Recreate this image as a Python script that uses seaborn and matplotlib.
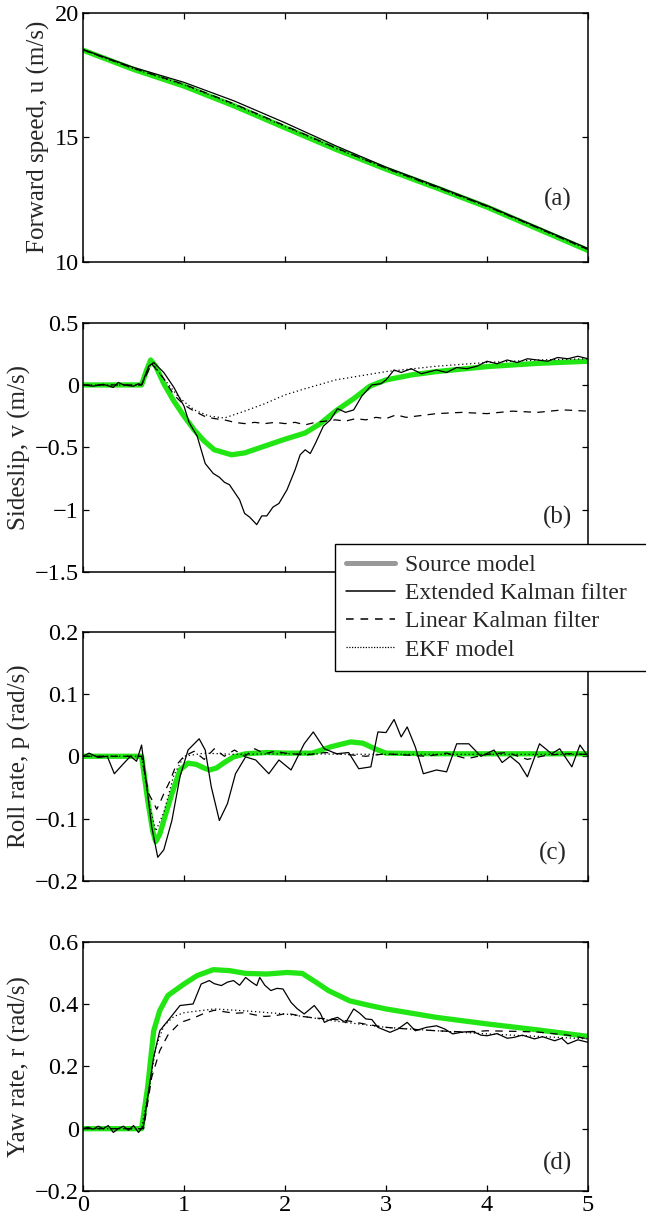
import matplotlib
matplotlib.use("Agg")
import matplotlib.pyplot as plt
import matplotlib.ticker as mticker
from matplotlib.lines import Line2D
import seaborn as sns

sns.set_style("ticks")
plt.rcParams['font.family'] = ['Liberation Serif', 'DejaVu Serif']

# ---- (a) forward speed ----
t_a = [0, 0.5, 1, 1.5, 2, 2.5, 3, 3.5, 4, 4.5, 5]
u_src = [18.49, 17.72, 17.05, 16.25, 15.38, 14.52, 13.72, 12.97, 12.20, 11.33, 10.46]
u_ekf = [18.52, 17.80, 17.20, 16.45, 15.58, 14.66, 13.80, 13.04, 12.26, 11.40, 10.54]
u_lkf = [18.50, 17.76, 17.12, 16.33, 15.46, 14.58, 13.76, 13.00, 12.23, 11.37, 10.50]
u_mod = [18.50, 17.75, 17.10, 16.30, 15.43, 14.56, 13.75, 12.99, 12.22, 11.36, 10.49]

# ---- (b) sideslip ----
t_b_src = [0, 0.58, 0.63, 0.67, 0.72, 0.8, 0.9, 1.0, 1.1, 1.2, 1.3, 1.47, 1.6, 1.8, 2.0,
           2.2, 2.35, 2.5, 2.68, 2.84, 3.0, 3.25, 3.5, 4.0, 4.5, 5.0]
v_src = [0, 0, 0.12, 0.2, 0.15, 0.01, -0.13, -0.25, -0.36, -0.45, -0.52, -0.56, -0.545, -0.49,
         -0.435, -0.385, -0.31, -0.21, -0.11, -0.01, 0.04, 0.08, 0.107, 0.147, 0.173, 0.19]
t_b_mod = [0, 0.58, 0.68, 0.8, 0.95, 1.1, 1.25, 1.4, 1.6, 1.8, 2.0, 2.2, 2.5, 3.0, 3.5, 4.0, 4.5, 5.0]
v_mod = [0, 0, 0.18, 0.05, -0.1, -0.2, -0.25, -0.265, -0.21, -0.15, -0.08, -0.03, 0.04, 0.107,
         0.15, 0.18, 0.2, 0.21]
t_b_lkf = [0, 0.58, 0.68, 0.8, 0.9, 1.0, 1.1, 1.2, 1.3, 1.4, 1.5, 1.6, 1.7, 1.8, 1.9, 2.0, 2.1,
           2.2, 2.3, 2.4, 2.5, 2.6, 2.7, 2.8, 2.9, 3.0, 3.1, 3.2, 3.3, 3.4, 3.5, 3.75, 4.0, 4.25,
           4.5, 4.75, 5.0]
v_lkf = [0, 0, 0.17, 0.05, -0.08, -0.16, -0.21, -0.25, -0.27, -0.28, -0.3, -0.31, -0.3, -0.31,
         -0.3, -0.31, -0.3, -0.32, -0.3, -0.29, -0.28, -0.29, -0.27, -0.28, -0.26, -0.27, -0.24,
         -0.26, -0.25, -0.24, -0.23, -0.22, -0.23, -0.21, -0.22, -0.2, -0.21]
t_b_ekf = [0, 0.1, 0.2, 0.3, 0.35, 0.4, 0.5, 0.55, 0.58, 0.65, 0.7, 0.75, 0.8, 0.9, 1.0, 1.05,
           1.13, 1.21, 1.29, 1.35, 1.4, 1.45, 1.5, 1.55, 1.6, 1.65, 1.72, 1.77, 1.82, 1.88, 1.94,
           2.02, 2.1, 2.15, 2.2, 2.25, 2.3, 2.38, 2.45, 2.52, 2.6, 2.68, 2.76, 2.86, 2.95, 3.0,
           3.08, 3.15, 3.25, 3.35, 3.5, 3.6, 3.7, 3.8, 3.9, 4.0, 4.1, 4.2, 4.3, 4.4, 4.5, 4.6,
           4.7, 4.8, 4.9, 5.0]
v_ekf = [0, -0.01, 0.005, -0.02, 0.02, 0.0, -0.01, 0.01, 0.0, 0.15, 0.18, 0.14, 0.1, -0.02,
         -0.17, -0.3, -0.41, -0.63, -0.71, -0.74, -0.78, -0.8, -0.86, -0.92, -1.03, -1.06, -1.12,
         -1.05, -1.05, -0.98, -0.95, -0.84, -0.68, -0.56, -0.52, -0.55, -0.47, -0.33, -0.28,
         -0.19, -0.22, -0.2, -0.09, 0.0, 0.01, 0.04, 0.12, 0.1, 0.13, 0.09, 0.12, 0.1, 0.14,
         0.13, 0.15, 0.19, 0.17, 0.2, 0.18, 0.21, 0.2, 0.19, 0.22, 0.21, 0.23, 0.21]

# ---- (c) roll rate ----
t_c_src = [0, 0.58, 0.64, 0.69, 0.72, 0.76, 0.8, 0.88, 0.96, 1.04, 1.12, 1.2, 1.25, 1.32, 1.4,
           1.49, 1.61, 1.82, 2.0, 2.27, 2.45, 2.65, 2.77, 2.89, 3.0, 3.5, 4.0, 5.0]
p_src = [0, 0, -0.07, -0.12, -0.137, -0.125, -0.103, -0.06, -0.022, -0.011, -0.013, -0.019,
         -0.022, -0.019, -0.01, -0.001, 0.004, 0.006, 0.005, 0.005, 0.015, 0.023, 0.021, 0.012,
         0.005, 0.004, 0.004, 0.004]
t_c_mod = [0, 0.58, 0.66, 0.72, 0.8, 0.9, 1.0, 1.2, 1.5, 2.0, 3.0, 5.0]
p_mod = [0, 0, -0.08, -0.12, -0.09, -0.03, 0.0, 0.005, 0.003, 0.004, 0.003, 0.003]
t_c_lkf = [0, 0.58, 0.65, 0.7, 0.73, 0.76, 0.8, 0.86, 0.92, 1.0, 1.1, 1.2, 1.3, 1.4, 1.5, 1.6,
           1.7, 1.8, 1.9, 2.0, 2.2, 2.4, 2.6, 2.8, 3.0, 3.2, 3.4, 3.6, 3.8, 4.0, 4.2, 4.4, 4.6,
           4.8, 5.0]
p_lkf = [0, 0, -0.06, -0.075, -0.085, -0.075, -0.06, -0.04, -0.015, 0.0, 0.008, -0.005, 0.012,
         0.0, 0.01, 0.0, 0.012, 0.004, 0.008, 0.005, 0.002, 0.006, 0.003, 0.0, 0.004, 0.002, 0.0,
         0.005, -0.004, 0.003, 0.006, -0.005, 0.002, 0.004, 0.003]
t_c_ekf = [0, 0.06, 0.15, 0.24, 0.31, 0.4, 0.47, 0.53, 0.58, 0.64, 0.68, 0.74, 0.8, 0.88, 0.96,
           1.04, 1.15, 1.21, 1.27, 1.35, 1.43, 1.51, 1.61, 1.71, 1.84, 1.94, 2.06, 2.19, 2.28,
           2.39, 2.51, 2.63, 2.73, 2.85, 2.92, 3.0, 3.08, 3.15, 3.21, 3.29, 3.37, 3.5, 3.6, 3.7,
           3.82, 3.94, 4.07, 4.15, 4.23, 4.32, 4.4, 4.52, 4.64, 4.72, 4.84, 4.92, 5.0]
p_ekf = [0, 0.005, -0.002, 0.0, -0.028, -0.012, 0.0, -0.008, 0.018, -0.06, -0.113, -0.162,
         -0.15, -0.103, -0.033, 0.01, 0.028, 0.01, -0.049, -0.103, -0.076, -0.028, -0.001,
         -0.006, -0.028, -0.006, -0.022, 0.02, 0.039, 0.012, 0.004, 0.006, -0.02, -0.017, 0.039,
         0.038, 0.059, 0.031, 0.047, 0.015, -0.028, -0.022, -0.025, 0.02, 0.02, 0.0, 0.01, -0.01,
         0.0, -0.012, -0.033, 0.02, 0.004, 0.012, -0.017, 0.018, 0.0]

# ---- (d) yaw rate ----
t_d_src = [0, 0.58, 0.64, 0.7, 0.76, 0.84, 1.0, 1.13, 1.29, 1.45, 1.61, 1.82, 2.02, 2.17, 2.31,
           2.43, 2.64, 2.84, 3.0, 3.5, 4.0, 4.5, 5.0]
r_src = [0, 0, 0.133, 0.314, 0.379, 0.427, 0.464, 0.491, 0.51, 0.507, 0.498, 0.496, 0.501,
         0.498, 0.469, 0.443, 0.41, 0.395, 0.384, 0.357, 0.336, 0.317, 0.296]
t_d_mod = [0, 0.58, 0.65, 0.72, 0.8, 0.9, 1.0, 1.3, 1.6, 2.0, 2.5, 3.0, 3.5, 4.0, 4.5, 5.0]
r_mod = [0, 0, 0.12, 0.26, 0.33, 0.36, 0.372, 0.384, 0.378, 0.368, 0.345, 0.325, 0.314, 0.304,
         0.296, 0.288]
t_d_lkf = [0, 0.6, 0.68, 0.76, 0.84, 0.96, 1.05, 1.13, 1.2, 1.3, 1.4, 1.5, 1.6, 1.7, 1.8, 1.9,
           2.02, 2.1, 2.17, 2.3, 2.5, 2.64, 2.8, 3.0, 3.2, 3.5, 3.8, 4.0, 4.3, 4.5, 4.8, 5.0]
r_lkf = [0, 0, 0.165, 0.25, 0.30, 0.34, 0.35, 0.36, 0.37, 0.38, 0.375, 0.37, 0.372, 0.365,
         0.36, 0.362, 0.37, 0.365, 0.36, 0.355, 0.35, 0.345, 0.335, 0.325, 0.32, 0.314, 0.31,
         0.314, 0.312, 0.31, 0.3, 0.288]
t_d_ekf = [0, 0.05, 0.1, 0.15, 0.2, 0.25, 0.3, 0.35, 0.4, 0.45, 0.5, 0.55, 0.6, 0.64, 0.7, 0.76,
           0.84, 0.96, 1.09, 1.17, 1.25, 1.3, 1.37, 1.43, 1.49, 1.55, 1.61, 1.67, 1.72, 1.75,
           1.8, 1.86, 1.92, 1.98, 2.06, 2.12, 2.19, 2.29, 2.35, 2.39, 2.45, 2.52, 2.6, 2.68,
           2.74, 2.8, 2.86, 2.92, 3.04, 3.12, 3.21, 3.29, 3.4, 3.5, 3.58, 3.66, 3.76, 3.86, 3.94,
           4.0, 4.1, 4.2, 4.27, 4.35, 4.47, 4.55, 4.67, 4.74, 4.8, 4.9, 5.0]
r_ekf = [0, 0.005, -0.002, 0.008, 0.0, 0.01, -0.012, 0.0, 0.008, -0.005, 0.01, -0.012, 0.01,
         0.1, 0.23, 0.314, 0.346, 0.395, 0.4, 0.464, 0.475, 0.465, 0.459, 0.47, 0.475, 0.46,
         0.485, 0.47, 0.459, 0.485, 0.46, 0.443, 0.45, 0.448, 0.405, 0.385, 0.368, 0.395, 0.37,
         0.341, 0.35, 0.357, 0.34, 0.384, 0.37, 0.352, 0.35, 0.325, 0.309, 0.32, 0.341, 0.314,
         0.325, 0.33, 0.32, 0.304, 0.31, 0.312, 0.3, 0.298, 0.305, 0.29, 0.293, 0.3, 0.288,
         0.295, 0.282, 0.29, 0.272, 0.285, 0.277]

panels = [
    dict(ylabel='Forward speed, u (m/s)', tag='(a)', ylim=(10, 20), yticks=[10, 15, 20],
         tagpos=(0.94, 0.25),
         src=(t_a, u_src), mod=(t_a, u_mod), lkf=(t_a, u_lkf), ekf=(t_a, u_ekf)),
    dict(ylabel='Sideslip, v (m/s)', tag='(b)', ylim=(-1.5, 0.5),
         yticks=[-1.5, -1, -0.5, 0, 0.5], tagpos=(0.94, 0.22),
         src=(t_b_src, v_src), mod=(t_b_mod, v_mod), lkf=(t_b_lkf, v_lkf), ekf=(t_b_ekf, v_ekf)),
    dict(ylabel='Roll rate, p (rad/s)', tag='(c)', ylim=(-0.2, 0.2),
         yticks=[-0.2, -0.1, 0, 0.1, 0.2], tagpos=(0.93, 0.11),
         src=(t_c_src, p_src), mod=(t_c_mod, p_mod), lkf=(t_c_lkf, p_lkf), ekf=(t_c_ekf, p_ekf)),
    dict(ylabel='Yaw rate, r (rad/s)', tag='(d)', ylim=(-0.2, 0.6),
         yticks=[-0.2, 0, 0.2, 0.4, 0.6], tagpos=(0.94, 0.11),
         src=(t_d_src, r_src), mod=(t_d_mod, r_mod), lkf=(t_d_lkf, r_lkf), ekf=(t_d_ekf, r_ekf)),
]

green = '#22e614'
fig = plt.figure(figsize=(6.46, 12.27), dpi=100)
bottoms = [0.7865, 0.5338, 0.2820, 0.0293]
fmt = mticker.FuncFormatter(lambda v, _: f'{v:g}'.replace('-', '\u2212'))

for i, (p, b) in enumerate(zip(panels, bottoms)):
    ax = fig.add_axes([0.1285, b, 0.7817, 0.2033])
    sns.lineplot(x=p['src'][0], y=p['src'][1], ax=ax, color=green, lw=3.8)
    sns.lineplot(x=p['mod'][0], y=p['mod'][1], ax=ax, color='black', lw=0.9)
    ax.lines[-1].set_dashes((1, 2.2))
    sns.lineplot(x=p['lkf'][0], y=p['lkf'][1], ax=ax, color='black', lw=0.9)
    ax.lines[-1].set_dashes((6, 5))
    sns.lineplot(x=p['ekf'][0], y=p['ekf'][1], ax=ax, color='black', lw=0.9)

    ax.set_xlim(0, 5)
    ax.set_ylim(*p['ylim'])
    ax.set_xticks([0, 1, 2, 3, 4, 5])
    ax.set_yticks(p['yticks'])
    ax.yaxis.set_major_formatter(fmt)
    ax.xaxis.set_major_formatter(fmt)
    if i < 3:
        ax.set_xticklabels([])
    ax.tick_params(direction='in', top=True, right=True, length=4, width=0.9,
                   labelsize=17.5, pad=3, colors='black')
    for s in ax.spines.values():
        s.set_linewidth(1.1)
        s.set_color('black')
    ax.set_ylabel(p['ylabel'], fontsize=18, labelpad=3)
    ax.text(p['tagpos'][0], p['tagpos'][1], p['tag'], transform=ax.transAxes,
            ha='center', va='center', fontsize=18)

handles = [
    Line2D([], [], color='#999999', lw=3.6),
    Line2D([], [], color='black', lw=1.1),
    Line2D([], [], color='black', lw=1.1, dashes=(5, 4.5)),
    Line2D([], [], color='black', lw=0.9, dashes=(1, 1.2)),
]
labels = ['Source model', 'Extended Kalman filter', 'Linear Kalman filter', 'EKF model']
leg = fig.legend(handles, labels, loc='upper left',
                 bbox_to_anchor=(0.5186, 0.40, 0.62, 0.1566), mode='expand',
                 bbox_transform=fig.transFigure, borderaxespad=0,
                 fontsize=17, frameon=True, fancybox=False, framealpha=1,
                 edgecolor='black', handlelength=2.1, handletextpad=0.4,
                 labelspacing=0.28, borderpad=0.45)
leg.get_frame().set_linewidth(1.0)

fig.savefig('out.png', dpi=100)
